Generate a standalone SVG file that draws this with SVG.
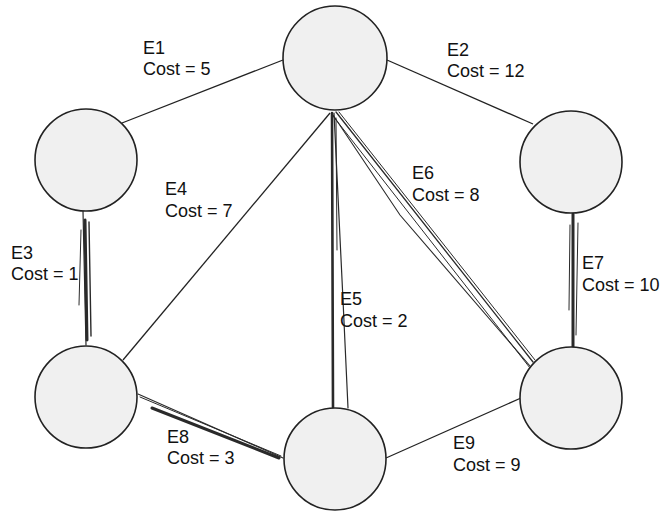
<svg xmlns="http://www.w3.org/2000/svg" width="660" height="511" viewBox="0 0 660 511">
<style>
.node{fill:#f0f0f0;stroke:#222;stroke-width:1.6}
.edge{fill:none;stroke:#222;stroke-width:1.3}
.heavy{fill:none;stroke:#2a2a2a;stroke-linecap:round}
.lbl{font-family:"Liberation Sans",Arial,sans-serif;font-size:18px;fill:#111}
</style>
<rect width="660" height="511" fill="#ffffff"/>
<g id="connectors">
  <path id="e1" class="edge" d="M122,123 L283,60"/>
  <path id="e2" class="edge" d="M387,60 L533,124"/>
  <path id="e4" class="edge" d="M123,360 L330,113"/>
  <path id="e9" class="edge" d="M386,458 L521,398"/>
  <g id="e3">
    <path class="heavy" stroke-width="1.2" d="M83,211 L86,345"/>
    <path class="heavy" stroke-width="3" d="M85,220 L87,340"/>
    <path class="heavy" stroke-width="1.4" d="M89,222 L91,336"/>
    <path class="heavy" stroke-width="1" d="M81,230 L79,305"/>
  </g>
  <g id="e5">
    <path class="heavy" stroke-width="2.6" d="M332,113 L333,408"/>
    <path class="heavy" stroke-width="1.2" d="M334,113 L343,300 L348,408"/>
    <path class="heavy" stroke-width="1" d="M336,118 L337,250"/>
  </g>
  <g id="e6">
    <path class="heavy" stroke-width="1.3" d="M336,112 L533,362"/>
    <path class="heavy" stroke-width="1.1" d="M333,115 L400,215 L530,366"/>
    <path class="heavy" stroke-width="1" d="M339,112 L535,360"/>
    <path class="heavy" stroke-width="1" d="M333,116 L530,368 L535,366"/>
  </g>
  <g id="e7">
    <path class="heavy" stroke-width="3" d="M573,214 L573,347"/>
    <path class="heavy" stroke-width="1" d="M570,225 L569,310"/>
    <path class="heavy" stroke-width="1" d="M578,223 L576,335"/>
  </g>
  <g id="e8">
    <path class="heavy" stroke-width="1.1" d="M138,394 L283,458"/>
    <path class="heavy" stroke-width="1" d="M140,397 L281,456"/>
    <path class="heavy" stroke-width="3" d="M152,408 L279,458"/>
  </g>
</g>
<g id="n_top"><circle class="node" cx="335" cy="58" r="52"/></g>
<g id="n_left"><circle class="node" cx="86" cy="160" r="51"/></g>
<g id="n_right_top"><circle class="node" cx="571" cy="162" r="51"/></g>
<g id="n_left_bottom"><circle class="node" cx="86" cy="397" r="51"/></g>
<g id="n_bottom"><circle class="node" cx="335" cy="459" r="51"/></g>
<g id="n_right_bottom"><circle class="node" cx="571" cy="398" r="51"/></g>
<g id="labels">
  <text class="lbl" x="143" y="54">E1</text><text class="lbl" x="143" y="75">Cost = 5</text>
  <text class="lbl" x="447" y="56">E2</text><text class="lbl" x="447" y="77">Cost = 12</text>
  <text class="lbl" x="11" y="259">E3</text><text class="lbl" x="11" y="280">Cost = 1</text>
  <text class="lbl" x="165" y="195">E4</text><text class="lbl" x="165" y="217">Cost = 7</text>
  <text class="lbl" x="340" y="305">E5</text><text class="lbl" x="340" y="327">Cost = 2</text>
  <text class="lbl" x="412" y="179">E6</text><text class="lbl" x="412" y="201">Cost = 8</text>
  <text class="lbl" x="582" y="269">E7</text><text class="lbl" x="582" y="291">Cost = 10</text>
  <text class="lbl" x="167" y="443">E8</text><text class="lbl" x="167" y="464">Cost = 3</text>
  <text class="lbl" x="453" y="449">E9</text><text class="lbl" x="453" y="471">Cost = 9</text>
</g>
</svg>
